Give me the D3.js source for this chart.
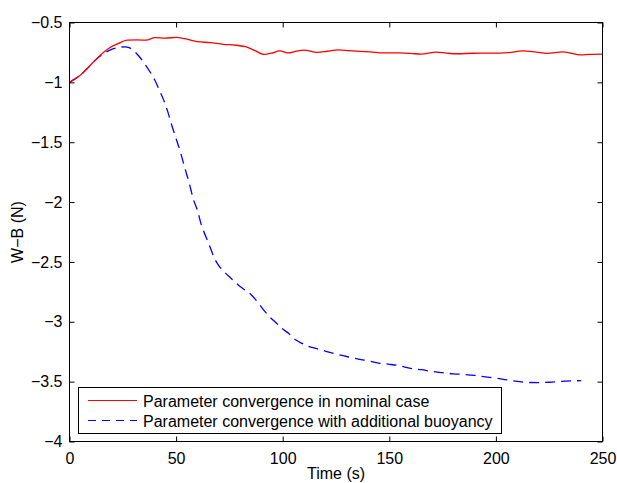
<!DOCTYPE html>
<html>
<head>
<meta charset="utf-8">
<script src="https://cdn.jsdelivr.net/npm/d3@7"></script>
<style>
  body { margin: 0; background: #fff; }
  text { font-family: "Liberation Sans", Arial, sans-serif; }
</style>
</head>
<body>
<svg id="chart" width="617" height="483"></svg>
<script>
// Time axis samples (s) and W-B estimates (N)
var nominalTime = [0, 2, 4, 8, 13.6, 18.3, 23, 27, 32, 36, 40, 45, 50, 54, 60, 66, 72, 78, 83, 87, 91, 95, 98.5, 102.5, 106, 110, 116, 121, 126, 131, 136, 141, 147, 155, 160, 165, 172, 177, 182, 189, 196, 202, 206, 212.5, 219, 224, 231.5, 235, 239.5, 244, 250];
var nominalValue = [-1.00, -0.975, -0.954, -0.89, -0.787, -0.717, -0.675, -0.648, -0.645, -0.648, -0.627, -0.63, -0.625, -0.635, -0.66, -0.668, -0.682, -0.69, -0.704, -0.735, -0.766, -0.755, -0.737, -0.754, -0.742, -0.73, -0.75, -0.74, -0.728, -0.735, -0.742, -0.745, -0.754, -0.754, -0.758, -0.765, -0.747, -0.756, -0.761, -0.757, -0.756, -0.756, -0.752, -0.737, -0.748, -0.758, -0.745, -0.755, -0.771, -0.767, -0.765];

var buoyTime = [0, 4, 8, 13, 16, 20, 23, 26, 28, 30, 32.5, 35, 37.5, 40, 42, 44, 46, 48, 50, 52, 54, 56, 58, 60, 62, 64, 66, 68, 70, 73, 76, 79, 82, 85, 88, 91, 94, 97, 100, 103, 106, 109, 112, 116, 120, 125, 130, 135, 140, 145, 150, 155, 160, 165, 170, 175, 180, 185, 190, 195, 200, 205, 210, 215, 220, 225, 230, 235, 240];
var buoyValue = [-1.00, -0.955, -0.89, -0.80, -0.76, -0.722, -0.708, -0.703, -0.71, -0.735, -0.78, -0.84, -0.905, -0.98, -1.06, -1.14, -1.24, -1.36, -1.47, -1.58, -1.71, -1.83, -1.97, -2.07, -2.20, -2.29, -2.38, -2.47, -2.53, -2.59, -2.64, -2.69, -2.73, -2.77, -2.83, -2.90, -2.96, -3.01, -3.06, -3.10, -3.15, -3.18, -3.205, -3.225, -3.245, -3.27, -3.29, -3.31, -3.325, -3.345, -3.355, -3.368, -3.39, -3.40, -3.415, -3.425, -3.435, -3.44, -3.448, -3.46, -3.47, -3.485, -3.498, -3.507, -3.508, -3.505, -3.498, -3.494, -3.492];

var xTicks = [0, 50, 100, 150, 200, 250];
var yTicks = [-4, -3.5, -3, -2.5, -2, -1.5, -1, -0.5];
var legendLabels = ["Parameter convergence in nominal case", "Parameter convergence with additional buoyancy"];

var svg = d3.select("#chart");
var plotLeft = 69.5, plotRight = 602.5, plotTop = 22.5, plotBottom = 441.5;

var x = d3.scaleLinear().domain([0, 250]).range([plotLeft, plotRight]);
var y = d3.scaleLinear().domain([-4, -0.5]).range([plotBottom, plotTop]);
var fmt = d3.format("~g");

// Curves
var line = d3.line()
  .x(function(d) { return x(d[0]); })
  .y(function(d) { return y(d[1]); })
  .curve(d3.curveMonotoneX);

var nominal = d3.zip(nominalTime, nominalValue);
var buoy = d3.zip(buoyTime, buoyValue);

svg.append("path")
  .attr("d", line(buoy))
  .attr("fill", "none")
  .attr("stroke", "#0000ff")
  .attr("stroke-width", 1.3)
  .attr("stroke-dasharray", "10,6");

svg.append("path")
  .attr("d", line(nominal))
  .attr("fill", "none")
  .attr("stroke", "#ff0000")
  .attr("stroke-width", 1.3);

// Axes: ticks inside, on all four sides
var tick = 5;
svg.append("g").attr("transform", "translate(0," + plotBottom + ")")
  .call(d3.axisBottom(x).tickValues(xTicks).tickSize(-tick).tickPadding(tick + 6).tickFormat(fmt));
svg.append("g").attr("transform", "translate(0," + plotTop + ")")
  .call(d3.axisTop(x).tickValues(xTicks).tickSize(-tick).tickFormat(""));
svg.append("g").attr("transform", "translate(" + plotLeft + ",0)")
  .call(d3.axisLeft(y).tickValues(yTicks).tickSize(-tick).tickPadding(tick + 2).tickFormat(fmt));
svg.append("g").attr("transform", "translate(" + plotRight + ",0)")
  .call(d3.axisRight(y).tickValues(yTicks).tickSize(-tick).tickFormat(""));

svg.selectAll(".domain").remove();
svg.selectAll(".tick line").attr("stroke", "#000");
svg.selectAll(".tick text")
  .attr("fill", "#000")
  .style("font-size", "16px")
  .style("font-family", "'Liberation Sans', Arial, sans-serif");

svg.append("rect")
  .attr("x", plotLeft).attr("y", plotTop)
  .attr("width", plotRight - plotLeft).attr("height", plotBottom - plotTop)
  .attr("fill", "none").attr("stroke", "#000").attr("stroke-width", 1);

// Axis labels
svg.append("text")
  .attr("x", (plotLeft + plotRight) / 2).attr("y", 479)
  .attr("text-anchor", "middle")
  .style("font-size", "16px")
  .text("Time (s)");

svg.append("text")
  .attr("transform", "translate(23," + (plotTop + plotBottom) / 2 + ") rotate(-90)")
  .attr("text-anchor", "middle")
  .style("font-size", "16px")
  .text("W\u2212B (N)");

// Legend
var legend = svg.append("g");
legend.append("rect")
  .attr("x", 78.5).attr("y", 387.5)
  .attr("width", 423).attr("height", 46)
  .attr("fill", "#fff").attr("stroke", "#000").attr("stroke-width", 1);

var legendStyles = [
  { color: "#ff0000", dash: null },
  { color: "#0000ff", dash: "8,6" }
];
legendLabels.forEach(function(label, i) {
  var ly = 400.5 + i * 20;
  legend.append("line")
    .attr("x1", 88).attr("x2", 137)
    .attr("y1", ly).attr("y2", ly)
    .attr("stroke", legendStyles[i].color)
    .attr("stroke-width", 1.2)
    .attr("stroke-dasharray", legendStyles[i].dash);
  legend.append("text")
    .attr("x", 143).attr("y", ly + 6)
    .style("font-size", "16px")
    .text(label);
});
</script>
</body>
</html>
